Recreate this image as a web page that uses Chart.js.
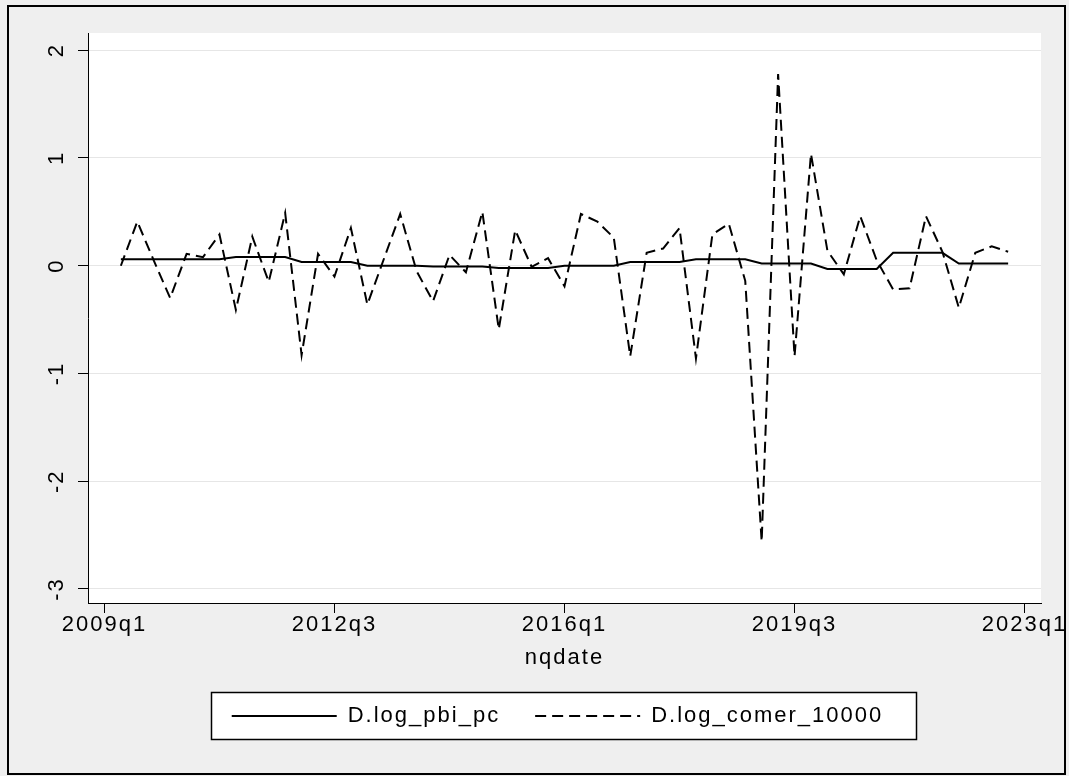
<!DOCTYPE html>
<html><head><meta charset="utf-8">
<script src="https://cdn.jsdelivr.net/npm/chart.js@4.4.0/dist/chart.umd.min.js"></script>
<style>html,body{margin:0;padding:0;background:#efefef;}#wrap{width:1069px;height:776px;position:relative;}</style>
</head><body><div id="wrap"><canvas id="c" width="1069" height="776"></canvas></div>
<script>
const quarters = ['2009q2','2009q3','2009q4',
 '2010q1','2010q2','2010q3','2010q4','2011q1','2011q2','2011q3','2011q4',
 '2012q1','2012q2','2012q3','2012q4','2013q1','2013q2','2013q3','2013q4',
 '2014q1','2014q2','2014q3','2014q4','2015q1','2015q2','2015q3','2015q4',
 '2016q1','2016q2','2016q3','2016q4','2017q1','2017q2','2017q3','2017q4',
 '2018q1','2018q2','2018q3','2018q4','2019q1','2019q2','2019q3','2019q4',
 '2020q1','2020q2','2020q3','2020q4','2021q1','2021q2','2021q3','2021q4',
 '2022q1','2022q2','2022q3','2022q4'];
const pbiPc = [0.06,0.06,0.06,
 0.06,0.06,0.06,0.06, 0.08,0.08,0.08,0.08,
 0.035,0.035,0.035,0.035, 0,0,0,0,
 -0.007,-0.007,-0.007,-0.007, -0.02,-0.02,-0.02,-0.02,
 0,0,0,0, 0.035,0.035,0.035,0.035,
 0.06,0.06,0.06,0.06, 0.02,0.02,0.02,0.02,
 -0.03,-0.03,-0.03,-0.03, 0.12,0.12,0.12,0.12,
 0.02,0.02,0.02,0.02];
const comer10000 = [0.00,0.41,0.05,
 -0.30,0.11,0.08,0.29, -0.41,0.27,-0.15,0.49,
 -0.83,0.11,-0.10,0.35, -0.36,0.06,0.48,-0.05,
 -0.33,0.10,-0.06,0.50, -0.59,0.33,-0.01,0.07,
 -0.19,0.48,0.41,0.26, -0.84,0.12,0.16,0.35,
 -0.86,0.29,0.39,-0.14, -2.56,1.78,-0.84,1.04,
 0.14,-0.08,0.46,0.05, -0.22,-0.21,0.46,0.13,
 -0.39,0.12,0.18,0.13];
const xTickLabels = ['2009q1','2012q3','2016q1','2019q3','2023q1'];
const yTickValues = [-3,-2,-1,0,1,2];
const seriesNames = ['D.log_pbi_pc','D.log_comer_10000'];
const xTitle = 'nqdate';

function qIndex(q){ const y = parseInt(q.slice(0,4),10); const k = parseInt(q.slice(5),10); return (y-2009)*4 + (k-1); }
const xTickValues = xTickLabels.map(qIndex);
const FONT = {family:"'Liberation Sans', Arial, sans-serif", size:22};
const SPACING = '2px';

const frame = {
  id:'frame',
  beforeUpdate(chart){ chart.ctx.letterSpacing = SPACING; },
  afterLayout(chart){
    const L = chart.legend;
    if (!L) return;
    const dx = 557.5 - (L.left + L.right)/2;
    L.left += dx; L.right += dx;
    L.top = 670; L.bottom = 771;
  },
  beforeDraw(chart){
    const ctx = chart.ctx, a = chart.chartArea;
    ctx.letterSpacing = SPACING;
    ctx.save();
    ctx.fillStyle = '#efefef';
    ctx.fillRect(0,0,chart.width,chart.height);
    ctx.fillStyle = '#ffffff';
    ctx.fillRect(a.left, a.top, a.right-a.left, a.bottom-a.top);
    ctx.fillStyle = '#ffffff';
    ctx.fillRect(211,692,706,48);
    ctx.strokeStyle = '#000'; ctx.lineWidth = 1.5;
    ctx.strokeRect(211.5,692.5,705,47);
    ctx.lineWidth = 2;
    ctx.strokeRect(8,6,1057,768);
    ctx.restore();
  }
};

new Chart(document.getElementById('c'), {
  type:'line',
  data:{datasets:[
    {label:seriesNames[0], data:quarters.map((q,i)=>({x:qIndex(q), y:pbiPc[i]})),
     borderColor:'#000', backgroundColor:'#000', borderWidth:2, pointRadius:0, tension:0, fill:false, pointStyle:'line'},
    {label:seriesNames[1], data:quarters.map((q,i)=>({x:qIndex(q), y:comer10000[i]})),
     borderColor:'#000', backgroundColor:'#000', borderWidth:2, borderDash:[11,6], pointRadius:0, tension:0, fill:false, pointStyle:'line'}
  ]},
  options:{
    responsive:false, animation:false, maintainAspectRatio:false,
    layout:{padding:{left:8, top:33, right:28, bottom:55}},
    scales:{
      x:{type:'linear', min:-1, max:57,
        afterBuildTicks:s=>{ s.ticks = xTickValues.map(v=>({value:v})); },
        afterFit:s=>{ s.height = 78; },
        ticks:{autoSkip:false, maxRotation:0, minRotation:0, color:'#000', font:FONT, padding:-1,
          callback:(v)=>{ const k = xTickValues.indexOf(v); return k>=0 ? xTickLabels[k] : ''; }},
        grid:{display:true, drawOnChartArea:false, tickLength:10, tickColor:'#000', tickWidth:1},
        border:{display:true, color:'#000', width:1},
        title:{display:true, text:xTitle, color:'#000', font:FONT, padding:{top:0,bottom:10}}
      },
      y:{min:-3.13, max:2.16,
        afterBuildTicks:s=>{ s.ticks = yTickValues.map(v=>({value:v})); },
        afterFit:s=>{ s.width = 80; },
        ticks:{minRotation:90, maxRotation:90, crossAlign:'center', color:'#000', font:FONT, padding:9,
          callback:(v)=>String(v)},
        grid:{color:'#e6e6e6', lineWidth:1, tickLength:10, tickColor:'#000', tickWidth:1},
        border:{display:true, color:'#000', width:1}
      }
    },
    plugins:{
      legend:{position:'bottom', maxHeight:40,
        labels:{usePointStyle:true, pointStyleWidth:105, color:'#000', font:FONT, padding:35,
          generateLabels(chart){
            const items = Chart.defaults.plugins.legend.labels.generateLabels(chart);
            items.forEach(it=>{
              const ds = chart.data.datasets[it.datasetIndex];
              it.lineDash = ds.borderDash || [];
              it.lineWidth = ds.borderWidth;
              it.strokeStyle = '#000';
              it.fillStyle = '#000';
              it.pointStyle = 'line';
            });
            return items;
          }}},
      tooltip:{enabled:false}
    }
  },
  plugins:[frame]
});
</script></body></html>
